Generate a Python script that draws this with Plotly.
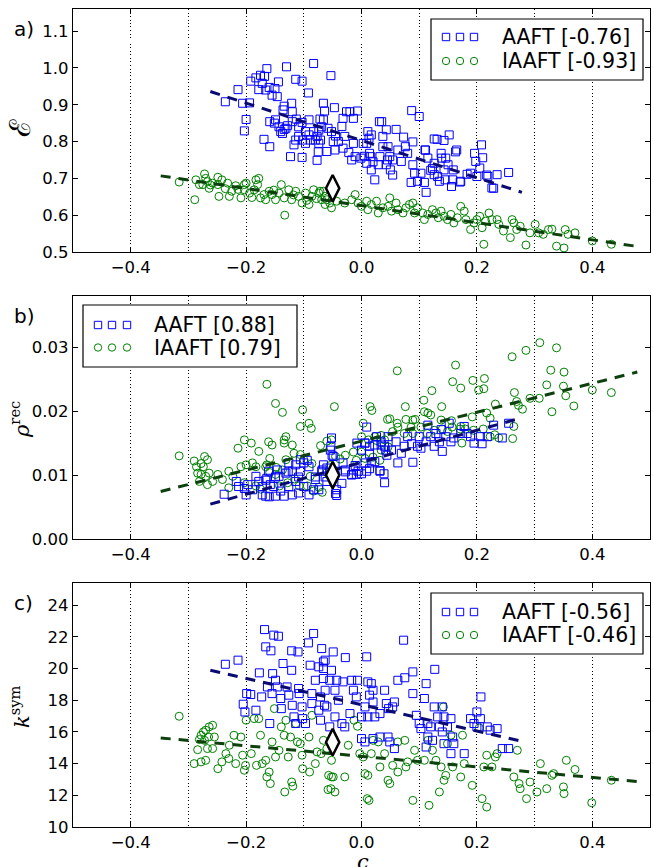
import plotly.graph_objects as go

# ---------------- data ----------------
a_aaft = [(-0.236,0.908),(-0.214,0.941),(-0.206,0.904),(-0.200,0.860),(-0.203,0.829),(-0.194,0.905),(-0.192,0.964),(-0.183,0.973),(-0.175,0.980),(-0.164,0.998),(-0.168,0.977),(-0.172,0.958),(-0.178,0.941),(-0.166,0.940),(-0.160,0.947),(-0.150,0.944),(-0.144,0.962),(-0.155,0.926),(-0.146,0.922),(-0.130,1.003),(-0.114,0.969),(-0.103,0.964),(-0.092,0.932),(-0.083,1.012),(-0.121,0.904),(-0.134,0.896),(-0.136,0.886),(-0.120,0.881),(-0.159,0.854),(-0.149,0.859),(-0.151,0.850),(-0.143,0.840),(-0.140,0.827),(-0.134,0.833),(-0.128,0.843),(-0.120,0.854),(-0.113,0.861),(-0.109,0.840),(-0.103,0.852),(-0.091,0.859),(-0.097,0.827),(-0.091,0.818),(-0.083,0.827),(-0.074,0.831),(-0.066,0.904),(-0.064,0.883),(-0.066,0.859),(-0.069,0.840),(-0.077,0.814),(-0.074,0.795),(-0.080,0.804),(-0.071,0.804),(-0.089,0.804),(-0.102,0.804),(-0.109,0.814),(-0.114,0.804),(-0.117,0.791),(-0.097,0.795),(-0.123,0.759),(-0.103,0.757),(-0.077,0.749),(-0.075,0.772),(-0.169,0.806),(-0.159,0.786),(-0.137,0.822),(-0.131,0.836),
 (-0.053,0.979),(-0.047,0.892),(-0.052,0.827),(-0.049,0.800),(-0.046,0.777),(-0.060,0.773),(-0.040,0.800),(-0.032,0.863),(-0.034,0.841),(-0.026,0.881),(-0.020,0.881),(-0.007,0.883),(-0.014,0.863),(-0.029,0.814),(-0.032,0.782),(-0.017,0.750),(-0.011,0.759),(-0.014,0.795),(0.003,0.795),(0.011,0.827),(0.017,0.818),(0.013,0.809),(0.009,0.795),(-0.001,0.755),(0.009,0.741),(0.016,0.759),(0.014,0.768),(0.017,0.723),(0.023,0.696),(0.029,0.737),(0.032,0.759),(0.031,0.854),(0.035,0.854),(0.043,0.832),(0.037,0.814),(0.046,0.786),(0.049,0.759),(0.045,0.750),(0.043,0.737),(0.050,0.723),(0.054,0.709),(0.060,0.833),(0.063,0.777),(0.073,0.812),(0.076,0.786),(0.080,0.768),(0.069,0.746),(0.087,0.884),(0.100,0.868),(0.089,0.737),(0.092,0.714),(0.086,0.689),(0.097,0.692),(0.103,0.714),(0.109,0.689),(0.112,0.662),(0.110,0.777),(0.115,0.755),(0.120,0.722),(0.126,0.807),(0.131,0.806),(0.126,0.741),(0.123,0.727),(0.126,0.710),(0.132,0.705),(0.135,0.692),(0.138,0.768),(0.139,0.755),(0.143,0.723),(0.145,0.696),(0.150,0.737),(0.152,0.818),(0.156,0.678),(0.158,0.696),(0.165,0.777),(0.159,0.723),(0.172,0.692),(0.189,0.714),(0.196,0.768),(0.198,0.746),(0.205,0.728),(0.208,0.791),(0.200,0.705),(0.219,0.705),(0.226,0.674),(0.235,0.710),(0.255,0.716),
 (-0.072,0.861),(-0.058,0.836),(-0.045,0.815),(-0.022,0.770),(0.005,0.760),(0.020,0.745),(0.037,0.786),(0.054,0.750),(0.089,0.799),(0.111,0.777),(0.143,0.803),(0.146,0.755),(0.163,0.772),(0.171,0.690),(0.183,0.711),(0.210,0.756),(0.217,0.709),(0.229,0.673)]

a_iaaft = [(-0.316,0.690),(-0.289,0.642),(-0.287,0.696),(-0.281,0.683),(-0.272,0.712),(-0.275,0.683),(-0.267,0.691),(-0.264,0.673),(-0.258,0.687),(-0.249,0.683),(-0.247,0.651),(-0.249,0.703),(-0.242,0.696),(-0.232,0.687),(-0.229,0.651),(-0.225,0.665),(-0.218,0.680),(-0.209,0.647),(-0.203,0.683),(-0.200,0.687),(-0.203,0.669),(-0.194,0.660),(-0.186,0.669),(-0.183,0.696),(-0.178,0.700),(-0.180,0.683),(-0.175,0.647),(-0.169,0.656),(-0.166,0.642),(-0.160,0.665),(-0.155,0.656),(-0.149,0.642),(-0.143,0.660),(-0.139,0.683),(-0.134,0.647),(-0.133,0.600),(-0.126,0.669),(-0.121,0.642),(-0.114,0.665),(-0.109,0.651),(-0.103,0.633),(-0.097,0.660),(-0.091,0.629),(-0.086,0.651),(-0.083,0.669),(-0.074,0.660),(-0.066,0.665),(-0.063,0.629),(-0.060,0.642),
 (-0.270,0.700),(-0.262,0.682),(-0.236,0.672),(-0.214,0.670),(-0.190,0.648),(-0.152,0.668),(-0.118,0.655),(-0.095,0.640),(-0.078,0.645),
 (-0.072,0.665),(-0.069,0.642),(-0.063,0.651),(-0.055,0.633),(-0.052,0.620),(-0.043,0.638),(-0.029,0.633),(-0.017,0.642),(-0.011,0.656),(-0.006,0.633),(0.000,0.624),(0.009,0.638),(0.011,0.615),(0.017,0.629),(0.026,0.638),(0.029,0.606),(0.037,0.620),(0.046,0.624),(0.049,0.647),(0.052,0.611),(0.060,0.633),(0.063,0.615),(0.072,0.606),(0.077,0.620),(0.083,0.629),(0.089,0.633),(0.092,0.606),(0.097,0.620),(0.106,0.606),(0.109,0.588),(0.115,0.602),(0.123,0.615),(0.129,0.606),(0.133,0.593),(0.138,0.611),(0.143,0.597),(0.149,0.588),(0.155,0.602),(0.160,0.579),(0.166,0.593),(0.172,0.624),(0.178,0.611),(0.181,0.588),(0.189,0.561),(0.195,0.579),(0.200,0.588),(0.205,0.597),(0.209,0.566),(0.212,0.521),(0.215,0.584),(0.221,0.606),(0.226,0.588),(0.235,0.588),(0.238,0.575),(0.246,0.557),(0.258,0.539),(0.261,0.588),(0.264,0.579),(0.269,0.561),(0.275,0.570),(0.285,0.519),(0.292,0.552),(0.301,0.575),(0.307,0.552),(0.315,0.548),(0.324,0.561),(0.330,0.562),(0.338,0.516),(0.351,0.511),(0.353,0.561),(0.358,0.548),(0.370,0.552),(0.400,0.530),(0.433,0.521)]

b_aaft = [(-0.217,0.0090),(-0.213,0.0082),(-0.200,0.0069),(-0.197,0.0085),(-0.189,0.0077),(-0.178,0.0090),(-0.172,0.0069),(-0.166,0.0067),(-0.172,0.0082),(-0.158,0.0085),(-0.164,0.0095),(-0.152,0.0082),(-0.149,0.0067),(-0.140,0.0075),(-0.134,0.0067),(-0.126,0.0082),(-0.120,0.0069),(-0.114,0.0090),(-0.106,0.0106),(-0.094,0.0123),(-0.100,0.0119),(-0.109,0.0072),(-0.091,0.0069),(-0.083,0.0077),(-0.080,0.0093),(-0.074,0.0077),(-0.069,0.0106),(-0.066,0.0116),(-0.060,0.0090),(-0.143,0.0098),(-0.131,0.0103),(-0.120,0.0106),(-0.114,0.0116),(-0.106,0.0124),(-0.126,0.0119),(-0.146,0.0108),(-0.161,0.0106),(-0.183,0.0098),
 (-0.238,0.0070),(-0.203,0.0079),(-0.166,0.0092),(-0.160,0.0066),(-0.149,0.0097),(-0.127,0.0105),(-0.109,0.0097),(-0.100,0.0082),(-0.091,0.0113),(-0.080,0.0097),(-0.068,0.0108),(-0.063,0.0097),(-0.054,0.0139),(-0.051,0.0131),(-0.045,0.0071),(-0.034,0.0087),(-0.028,0.0105),(-0.017,0.0100),(-0.011,0.0115),(-0.008,0.0150),(0.000,0.0139),(0.006,0.0150),(0.009,0.0175),(0.000,0.0102),(0.014,0.0110),(0.023,0.0121),(0.032,0.0107),(0.040,0.0088),(0.039,0.0102),(0.034,0.0147),(0.023,0.0147),(0.042,0.0139),(0.044,0.0131),(0.014,0.0133),
 (-0.052,0.0158),(-0.053,0.0145),(-0.049,0.0129),(-0.046,0.0106),(-0.060,0.0111),(-0.043,0.0077),(-0.043,0.0068),(-0.032,0.0119),(-0.028,0.0108),(-0.017,0.0101),(-0.014,0.0108),(-0.006,0.0106),(-0.009,0.0101),(0.009,0.0106),(0.006,0.0119),(0.017,0.0119),(0.032,0.0106),(0.063,0.0119),(0.089,0.0120),(0.006,0.0150),(0.014,0.0145),(0.026,0.0160),(0.034,0.0152),(0.040,0.0145),(0.046,0.0160),(0.052,0.0139),(0.060,0.0152),(0.069,0.0134),(0.074,0.0145),(0.080,0.0160),(0.087,0.0149),(0.097,0.0145),(0.100,0.0160),(0.103,0.0142),(0.112,0.0152),(0.115,0.0178),(0.120,0.0160),(0.126,0.0145),(0.129,0.0165),(0.135,0.0152),(0.138,0.0171),(0.140,0.0137),(0.146,0.0160),(0.152,0.0181),(0.155,0.0152),(0.160,0.0158),(0.172,0.0165),(0.178,0.0176),(0.183,0.0165),(0.189,0.0160),(0.195,0.0150),(0.206,0.0160),(0.209,0.0149),(0.218,0.0160),(0.229,0.0178),(0.244,0.0158),(0.255,0.0181)]

b_iaaft = [(-0.316,0.0130),(-0.290,0.0122),(-0.286,0.0113),(-0.278,0.0118),(-0.274,0.0113),(-0.267,0.0124),(-0.272,0.0129),(-0.284,0.0103),(-0.278,0.0101),(-0.270,0.0098),(-0.264,0.0103),(-0.281,0.0090),(-0.267,0.0085),(-0.258,0.0090),(-0.249,0.0101),(-0.241,0.0093),(-0.230,0.0106),(-0.230,0.0080),(-0.223,0.0098),(-0.214,0.0142),(-0.203,0.0155),(-0.200,0.0116),(-0.191,0.0150),(-0.189,0.0119),(-0.178,0.0137),(-0.183,0.0113),(-0.166,0.0113),(-0.164,0.0242),(-0.161,0.0152),(-0.155,0.0147),(-0.149,0.0212),(-0.137,0.0198),(-0.134,0.0155),(-0.131,0.0160),(-0.134,0.0150),(-0.120,0.0147),(-0.117,0.0134),(-0.106,0.0132),(-0.102,0.0202),(-0.106,0.0176),(-0.091,0.0181),(-0.087,0.0173),(-0.071,0.0146),(-0.060,0.0153),
 (-0.100,0.0124),(-0.131,0.0124),(-0.159,0.0126),(-0.164,0.0116),(-0.209,0.0113),(-0.203,0.0088),(-0.183,0.0083),(-0.175,0.0078),(-0.159,0.0104),(-0.148,0.0112),(-0.142,0.0083),(-0.128,0.0088),(-0.116,0.0094),(-0.108,0.0083),(-0.094,0.0083),(-0.083,0.0075),(-0.074,0.0081),(-0.068,0.0073),(-0.086,0.0118),(-0.089,0.0098),(-0.137,0.0108),(-0.149,0.0101),
 (-0.047,0.0207),(0.015,0.0207),(0.018,0.0201),(0.045,0.0187),(0.003,0.0181),(-0.052,0.0155),(0.000,0.0160),(0.012,0.0155),(0.023,0.0160),(0.034,0.0162),(0.026,0.0154),(-0.045,0.0129),(-0.028,0.0131),(-0.014,0.0136),(0.000,0.0136),(-0.009,0.0123),(0.006,0.0126),(0.020,0.0128),(0.032,0.0123),(-0.060,0.0104),(-0.054,0.0115),(-0.037,0.0125),
 (0.062,0.0263),(0.049,0.0188),(0.062,0.0181),(0.063,0.0175),(0.076,0.0207),(0.077,0.0187),(0.089,0.0186),(0.093,0.0187),(0.108,0.0217),(0.109,0.0199),(0.115,0.0197),(0.122,0.0232),(0.120,0.0194),(0.139,0.0207),(0.138,0.0186),(0.158,0.0246),(0.163,0.0272),(0.172,0.0236),(0.156,0.0185),(0.172,0.0176),(0.192,0.0191),(0.193,0.0248),(0.203,0.0233),(0.213,0.0251),(0.212,0.0235),(0.217,0.0197),(0.223,0.0189),(0.232,0.0211),(0.238,0.0158),(0.261,0.0285),(0.265,0.0229),(0.269,0.0215),(0.272,0.0209),(0.279,0.0203),(0.262,0.0157),(0.264,0.0176),(0.285,0.0295),(0.292,0.0220),(0.309,0.0307),(0.308,0.0220),(0.321,0.0241),(0.328,0.0264),(0.330,0.0199),(0.338,0.0299),(0.350,0.0239),(0.351,0.0261),(0.354,0.0224),(0.368,0.0208),(0.400,0.0233),(0.433,0.0229),
 (0.054,0.0168),(0.040,0.0155),(0.046,0.0144),(0.034,0.0139),(0.074,0.0165),(0.089,0.0165),(0.114,0.0165),(0.126,0.0170),(0.140,0.0172),(0.149,0.0168),(0.157,0.0175),(0.171,0.0172),(0.180,0.0172),(0.174,0.0150),(0.194,0.0170),(0.211,0.0172),(0.231,0.0163),(0.223,0.0160),(0.086,0.0175),(0.103,0.0175)]

c_aaft = [(-0.236,20.27),(-0.214,20.53),(-0.205,17.75),(-0.202,17.26),(-0.199,18.42),(-0.192,18.36),(-0.183,17.37),(-0.177,19.73),(-0.173,18.21),(-0.168,22.46),(-0.166,21.37),(-0.163,18.84),(-0.157,21.12),(-0.155,18.42),(-0.152,22.11),(-0.144,22.04),(-0.149,19.26),(-0.159,16.53),(-0.154,19.68),(-0.146,18.84),(-0.140,18.11),(-0.139,17.47),(-0.136,20.32),(-0.129,18.84),(-0.126,18.32),(-0.121,19.89),(-0.120,17.68),(-0.117,16.95),(-0.109,18.74),(-0.114,16.53),(-0.121,21.12),(-0.110,21.05),(-0.108,18.42),(-0.103,17.58),(-0.102,16.84),(-0.097,16.53),(-0.092,21.62),(-0.086,18.42),(-0.083,22.21),(-0.086,17.79),(-0.089,20.21),(-0.080,19.26),(-0.074,20.11),(-0.069,21.26),(-0.066,20.42),(-0.071,18.21),(-0.074,17.37),(-0.071,16.74),(-0.066,19.37),(-0.064,17.68),(-0.063,18.63),
 (-0.063,20.53),(-0.066,20.00),(-0.049,21.05),(-0.052,19.89),(-0.055,19.26),(-0.043,19.26),(-0.046,18.63),(-0.032,19.16),(-0.028,20.69),(-0.040,18.00),(-0.060,17.58),(-0.046,16.95),(-0.055,16.32),(-0.034,16.53),(-0.029,16.32),(-0.020,17.16),(-0.014,18.63),(-0.017,19.26),(-0.007,19.26),(-0.009,18.21),(0.009,20.74),(0.011,19.16),(0.017,19.05),(0.020,18.63),(0.014,18.32),(0.020,17.89),(0.006,17.58),(0.000,16.95),(0.011,16.95),(0.023,16.95),(0.032,17.16),(0.040,18.63),(0.043,17.79),(0.047,17.47),(0.054,17.58),(0.057,17.89),(0.000,15.58),(0.006,15.37),(0.020,15.58),(0.032,15.68),(0.046,15.68),(0.057,14.95),(0.049,15.37),(0.063,19.26),(0.073,21.79),(0.075,19.42),(0.089,18.42),(0.089,19.79),(0.095,17.05),(0.100,16.53),(0.103,16.21),(0.109,18.11),(0.112,19.05),(0.115,16.53),(0.120,16.32),(0.126,17.58),(0.127,19.95),(0.132,16.95),(0.135,16.32),(0.140,17.58),(0.140,16.00),(0.143,16.95),(0.149,16.32),(0.155,16.84),(0.158,15.68),(0.155,14.63),(0.112,15.05),(0.115,15.68),(0.123,15.47),(0.143,15.26),(0.160,15.26),(0.178,14.63),(0.189,16.84),(0.195,16.53),(0.200,17.26),(0.206,16.84),(0.207,18.21),(0.200,16.32),(0.218,16.32),(0.223,16.11),(0.235,16.21),(0.244,14.95),(0.255,14.95)]

c_iaaft = [(-0.316,16.99),(-0.290,14.00),(-0.284,14.88),(-0.281,15.52),(-0.278,15.79),(-0.274,16.00),(-0.270,16.11),(-0.264,16.32),(-0.258,16.42),(-0.255,15.68),(-0.265,15.68),(-0.272,15.47),(-0.267,14.95),(-0.278,14.11),(-0.270,14.21),(-0.258,14.95),(-0.249,13.68),(-0.242,14.11),(-0.235,14.63),(-0.230,14.32),(-0.229,15.16),(-0.221,15.79),(-0.218,14.00),(-0.209,15.68),(-0.206,14.53),(-0.200,16.74),(-0.201,13.89),(-0.203,13.58),(-0.191,14.63),(-0.186,16.84),(-0.178,16.84),(-0.175,15.79),(-0.182,13.89),(-0.172,14.00),(-0.166,14.21),(-0.164,13.16),(-0.158,12.74),(-0.160,13.47),(-0.155,15.37),(-0.151,17.47),(-0.149,14.42),(-0.143,14.84),(-0.139,16.32),(-0.134,15.79),(-0.133,12.21),(-0.131,16.74),(-0.127,14.42),(-0.123,15.68),(-0.121,12.84),(-0.119,12.58),(-0.114,16.53),(-0.111,15.37),(-0.106,15.26),(-0.102,13.68),(-0.103,14.53),(-0.091,15.68),(-0.090,13.47),(-0.086,17.05),(-0.080,14.00),(-0.077,14.74),(-0.070,14.63),(-0.066,15.47),(-0.060,14.95),(-0.058,12.36),(-0.057,13.26),
 (-0.052,14.21),(-0.052,13.16),(-0.049,13.16),(-0.053,12.42),(-0.046,12.21),(-0.052,15.16),(-0.029,13.16),(-0.023,15.16),(-0.013,16.74),(-0.007,16.36),(0.003,14.42),(-0.003,14.63),(0.006,13.37),(0.011,13.26),(0.010,11.79),(0.013,11.68),(0.017,14.63),(0.020,15.47),(0.029,15.37),(0.032,13.79),(0.040,14.63),(0.046,12.95),(0.049,12.74),(0.054,13.89),(0.063,15.37),(0.063,13.47),(0.075,15.47),(0.077,13.79),(0.080,14.11),(0.089,11.68),(0.092,14.84),(0.097,14.21),(0.109,14.21),(0.115,15.47),(0.117,11.37),(0.123,14.84),(0.129,14.21),(0.135,12.21),(0.138,13.79),(0.142,17.58),(0.143,12.95),(0.146,13.26),(0.149,15.26),(0.155,15.79),(0.158,13.79),(0.175,15.79),(0.172,13.16),(0.178,14.00),(0.192,12.63),(0.204,16.25),(0.209,11.79),(0.212,13.79),(0.217,11.26),(0.217,14.53),(0.226,13.79),(0.232,14.42),(0.235,14.63),(0.264,13.16),(0.270,14.84),(0.275,12.42),(0.273,12.74),(0.286,11.79),(0.292,12.84),(0.304,12.21),(0.310,14.00),(0.321,12.42),(0.330,13.26),(0.333,13.37),(0.350,12.53),(0.351,12.11),(0.355,14.21),(0.370,13.63),(0.399,11.53),(0.433,12.95)]

# linear fits: (slope, intercept), x-extent of each fit line
fit_aaft = [(-0.507, 0.803), (0.0250, 0.0120), (-8.30, 17.72)]
fit_iaaft = [(-0.232, 0.626), (0.0226, 0.0153), (-3.33, 14.46)]
fit_x_aaft = [-0.262, 0.278]
fit_x_iaaft = [-0.348, 0.478]

# reference (original data) value per panel
ref_x = -0.05
ref_y = [0.673, 0.0100, 15.35]

legend_labels = [("AAFT [-0.76]", "IAAFT [-0.93]"),
                 ("AAFT [0.88]", "IAAFT [0.79]"),
                 ("AAFT [-0.56]", "IAAFT [-0.46]")]
panel_letters = ["a)", "b)", "c)"]
ytitles = ["ℰ", "<i>ρ</i><sup>rec</sup>", "<i>k</i><sup>sym</sup>"]
ytitle_sizes = [29, 21, 21]
yranges = [[0.5, 1.16], [0.0, 0.038], [10, 25.4]]
ydticks = [0.1, 0.01, 2]
yfmts = [".1f", ".2f", "d"]

# ---------------- figure ----------------
W, H = 653, 867
ML, MR, MT, MB = 73, 3, 9, 40
PW, PH = W - ML - MR, H - MT - MB

def px2x(p):
    return (p - ML) / PW

def py2y(p):
    return (H - MB - p) / PH

panel_px = [(9, 252), (296, 539), (583, 827)]

BLUE = "#0000ff"
GREEN = "#008000"
FONT = "DejaVu Sans"

fig = go.Figure()
series = [(a_aaft, a_iaaft), (b_aaft, b_iaaft), (c_aaft, c_iaaft)]
layout = {}
for i in range(3):
    sfx = "" if i == 0 else str(i + 1)
    xa, ya = "x" + sfx, "y" + sfx
    aa, ia = series[i]
    fig.add_trace(go.Scatter(x=[p[0] for p in ia], y=[p[1] for p in ia], mode="markers",
                             marker=dict(symbol="circle-open", size=8, color=GREEN, line=dict(width=1)),
                             xaxis=xa, yaxis=ya, showlegend=False))
    fig.add_trace(go.Scatter(x=[p[0] for p in aa], y=[p[1] for p in aa], mode="markers",
                             marker=dict(symbol="square-open", size=8, color=BLUE, line=dict(width=1)),
                             xaxis=xa, yaxis=ya, showlegend=False))
    s, b = fit_aaft[i]
    fig.add_trace(go.Scatter(x=fit_x_aaft, y=[s * v + b for v in fit_x_aaft], mode="lines",
                             line=dict(color="#0a0a70", width=3, dash="10px,8px"),
                             xaxis=xa, yaxis=ya, showlegend=False))
    s, b = fit_iaaft[i]
    fig.add_trace(go.Scatter(x=fit_x_iaaft, y=[s * v + b for v in fit_x_iaaft], mode="lines",
                             line=dict(color="#0d400d", width=3, dash="10px,8px"),
                             xaxis=xa, yaxis=ya, showlegend=False))
    fig.add_trace(go.Scatter(x=[ref_x], y=[ref_y[i]], mode="markers",
                             marker=dict(symbol="diamond-tall", size=19, color="white",
                                         line=dict(color="black", width=2.5)),
                             xaxis=xa, yaxis=ya, showlegend=False))
    top, bot = panel_px[i]
    layout["xaxis" + sfx] = dict(
        domain=[0, 1], anchor=ya, range=[-0.5, 0.5], tick0=0, dtick=0.2, tickformat=".1f",
        automargin=False,
        showline=True, linecolor="black", linewidth=1.2, mirror="ticks",
        ticks="inside", ticklen=5, tickwidth=1, tickcolor="black",
        showgrid=True, gridcolor="black", gridwidth=1, griddash="1px,2.5px",
        minor=dict(dtick=0.1, tick0=0, showgrid=True, gridcolor="black", gridwidth=1,
                   griddash="1px,2.5px", ticks=""),
        zeroline=False, tickfont=dict(family=FONT, size=16.5, color="black"))
    layout["yaxis" + sfx] = dict(
        domain=[py2y(bot), py2y(top)], anchor=xa, range=yranges[i], tick0=0, dtick=ydticks[i],
        tickformat=yfmts[i], automargin=False,
        showline=True, linecolor="black", linewidth=1.2, mirror="ticks",
        ticks="inside", ticklen=5, tickwidth=1, tickcolor="black",
        showgrid=False, zeroline=False, tickfont=dict(family=FONT, size=16.5, color="black"))

shapes = []
annotations = []
leg_boxes = [(431, 643, 19, 80), (83, 297, 305, 367), (431, 643, 593, 654)]
leg_marker_x = [(446, 460, 474), (98, 112, 127), (446, 460, 474)]
leg_rows = [(37, 61), (325, 347.5), (612, 635)]
leg_text_x = [500, 152, 500]
for i in range(3):
    x0, x1, y0, y1 = leg_boxes[i]
    shapes.append(dict(type="rect", xref="paper", yref="paper", x0=px2x(x0), x1=px2x(x1),
                       y0=py2y(y1), y1=py2y(y0), line=dict(color="black", width=1.2),
                       fillcolor="white", layer="above"))
    for r, (sym, col) in enumerate([("rect", BLUE), ("circle", GREEN)]):
        for mx in leg_marker_x[i]:
            shapes.append(dict(type=sym, xref="paper", yref="paper",
                               xsizemode="pixel", ysizemode="pixel",
                               xanchor=px2x(mx), yanchor=py2y(leg_rows[i][r]),
                               x0=-3.7, x1=3.7, y0=-3.7, y1=3.7,
                               line=dict(color=col, width=1), layer="above"))
        annotations.append(dict(xref="paper", yref="paper", x=px2x(leg_text_x[i]),
                                y=py2y(leg_rows[i][r]), xanchor="left", yanchor="middle",
                                text=legend_labels[i][r], showarrow=False,
                                font=dict(family=FONT, size=20.5, color="black")))

panel_label_y = [28.5, 316, 603]
ytitle_y = [128, 420, 707]
for i in range(3):
    annotations.append(dict(xref="paper", yref="paper", x=px2x(12), y=py2y(panel_label_y[i]),
                            xanchor="left", yanchor="middle", text=panel_letters[i], showarrow=False,
                            font=dict(family=FONT, size=20, color="black")))
    annotations.append(dict(xref="paper", yref="paper", x=px2x(20), y=py2y(ytitle_y[i]),
                            xanchor="center", yanchor="middle", text=ytitles[i], showarrow=False,
                            textangle=-90, font=dict(family="DejaVu Serif", size=ytitle_sizes[i], color="black")))
annotations.append(dict(xref="paper", yref="paper", x=px2x(363), y=py2y(862), xanchor="center",
                        yanchor="middle", text="<i>c</i>", showarrow=False,
                        font=dict(family="DejaVu Serif", size=21, color="black")))

fig.update_layout(width=W, height=H, margin=dict(l=ML, r=MR, t=MT, b=MB, autoexpand=False),
                  paper_bgcolor="white", plot_bgcolor="white",
                  shapes=shapes, annotations=annotations, **layout)
fig.write_html("out.html", config={"displayModeBar": False},
               post_script="document.body.style.margin='0px';document.body.style.overflow='hidden';")
